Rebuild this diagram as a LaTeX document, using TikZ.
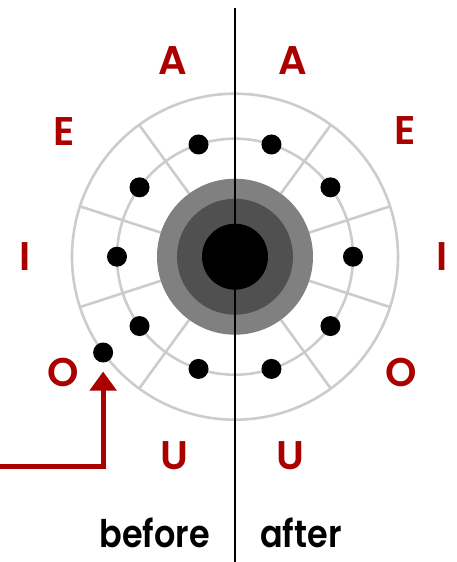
\documentclass[tikz,border=0pt]{standalone}
\usepackage{fontspec}
\newfontfamily\pop{Poppins}[UprightFont=* SemiBold]
\newfontfamily\popcap{Poppins}[UprightFont=* SemiBold, FakeStretch=0.88]
\usetikzlibrary{arrows.meta}
\definecolor{ringgray}{RGB}{204,204,204}
\definecolor{midgray}{RGB}{128,128,128}
\definecolor{darkgray}{RGB}{80,80,80}
\definecolor{vred}{RGB}{170,0,0}
\begin{document}
\begin{tikzpicture}[x=1pt,y=1pt,
  ring/.style={draw=ringgray, line width=2.6pt},
  dot/.style={circle, fill=black, inner sep=0pt, minimum size=20pt},
  vowel/.style={text=vred, font=\pop\fontsize{40}{40}\selectfont, inner sep=0pt},
  caption/.style={font=\popcap\fontsize{38}{38}\selectfont, inner sep=0pt},
  divider/.style={draw=black, line width=2.2pt},
  pointer/.style={draw=vred, line width=5pt, line join=miter, -{Triangle[width=26pt,length=19pt]}}]
\useasboundingbox (-235,-305.3) rectangle (222,256.7);
\coordinate (c) at (0,0);
% rings and spokes
\draw[ring] (c) circle (163);
\draw[ring] (c) circle (118);
\foreach \a in {18,54,...,342} \draw[ring] (\a:78) -- (\a:163);
% central discs
\fill[midgray] (c) circle (78);
\fill[darkgray] (c) circle (58);
\fill[black] (c) circle (33);
% dots, before (left)
\node[dot] (bA) at (108:118) {};
\node[dot] (bE) at (144:118) {};
\node[dot] (bI) at (180:118) {};
\node[dot] (bO) at (216:118) {};
\node[dot] (bU) at (252:118) {};
\node[dot] (bX) at (216:163) {};
% dots, after (right)
\node[dot] (aA) at (72:118) {};
\node[dot] (aE) at (36:118) {};
\node[dot] (aI) at (0:118) {};
\node[dot] (aO) at (-36:118) {};
\node[dot] (aU) at (-72:118) {};
% vowel labels
\node[vowel] (lA) at (107.5:206) {A};
\node[vowel] (lE) at (143.7:212) {E};
\node[vowel] (lI) at (180:210) {I};
\node[vowel] (lO) at (214:207) {O};
\node[vowel] (lU) at (253:208) {U};
\node[vowel] (rA) at (73.5:205) {A};
\node[vowel] (rE) at (36.4:212) {E};
\node[vowel] (rI) at (0:207) {I};
\node[vowel] (rO) at (-34.8:203) {O};
\node[vowel] (rU) at (-74.5:207) {U};
% divider
\coordinate (dtop) at (0,248.7);
\coordinate (dbot) at (0,-306);
\draw[divider] (dtop) -- (dbot);
% captions
\node[caption, anchor=base east] (before) at (-25,-291) {before};
\node[caption, anchor=base west] (after) at (25,-291) {after};
% pointer arrow
\coordinate (astart) at (-240,-209.3);
\coordinate (atip) at ([yshift=-19pt]bX.center);
\draw[pointer] (astart) -| (atip);
\end{tikzpicture}
\end{document}
